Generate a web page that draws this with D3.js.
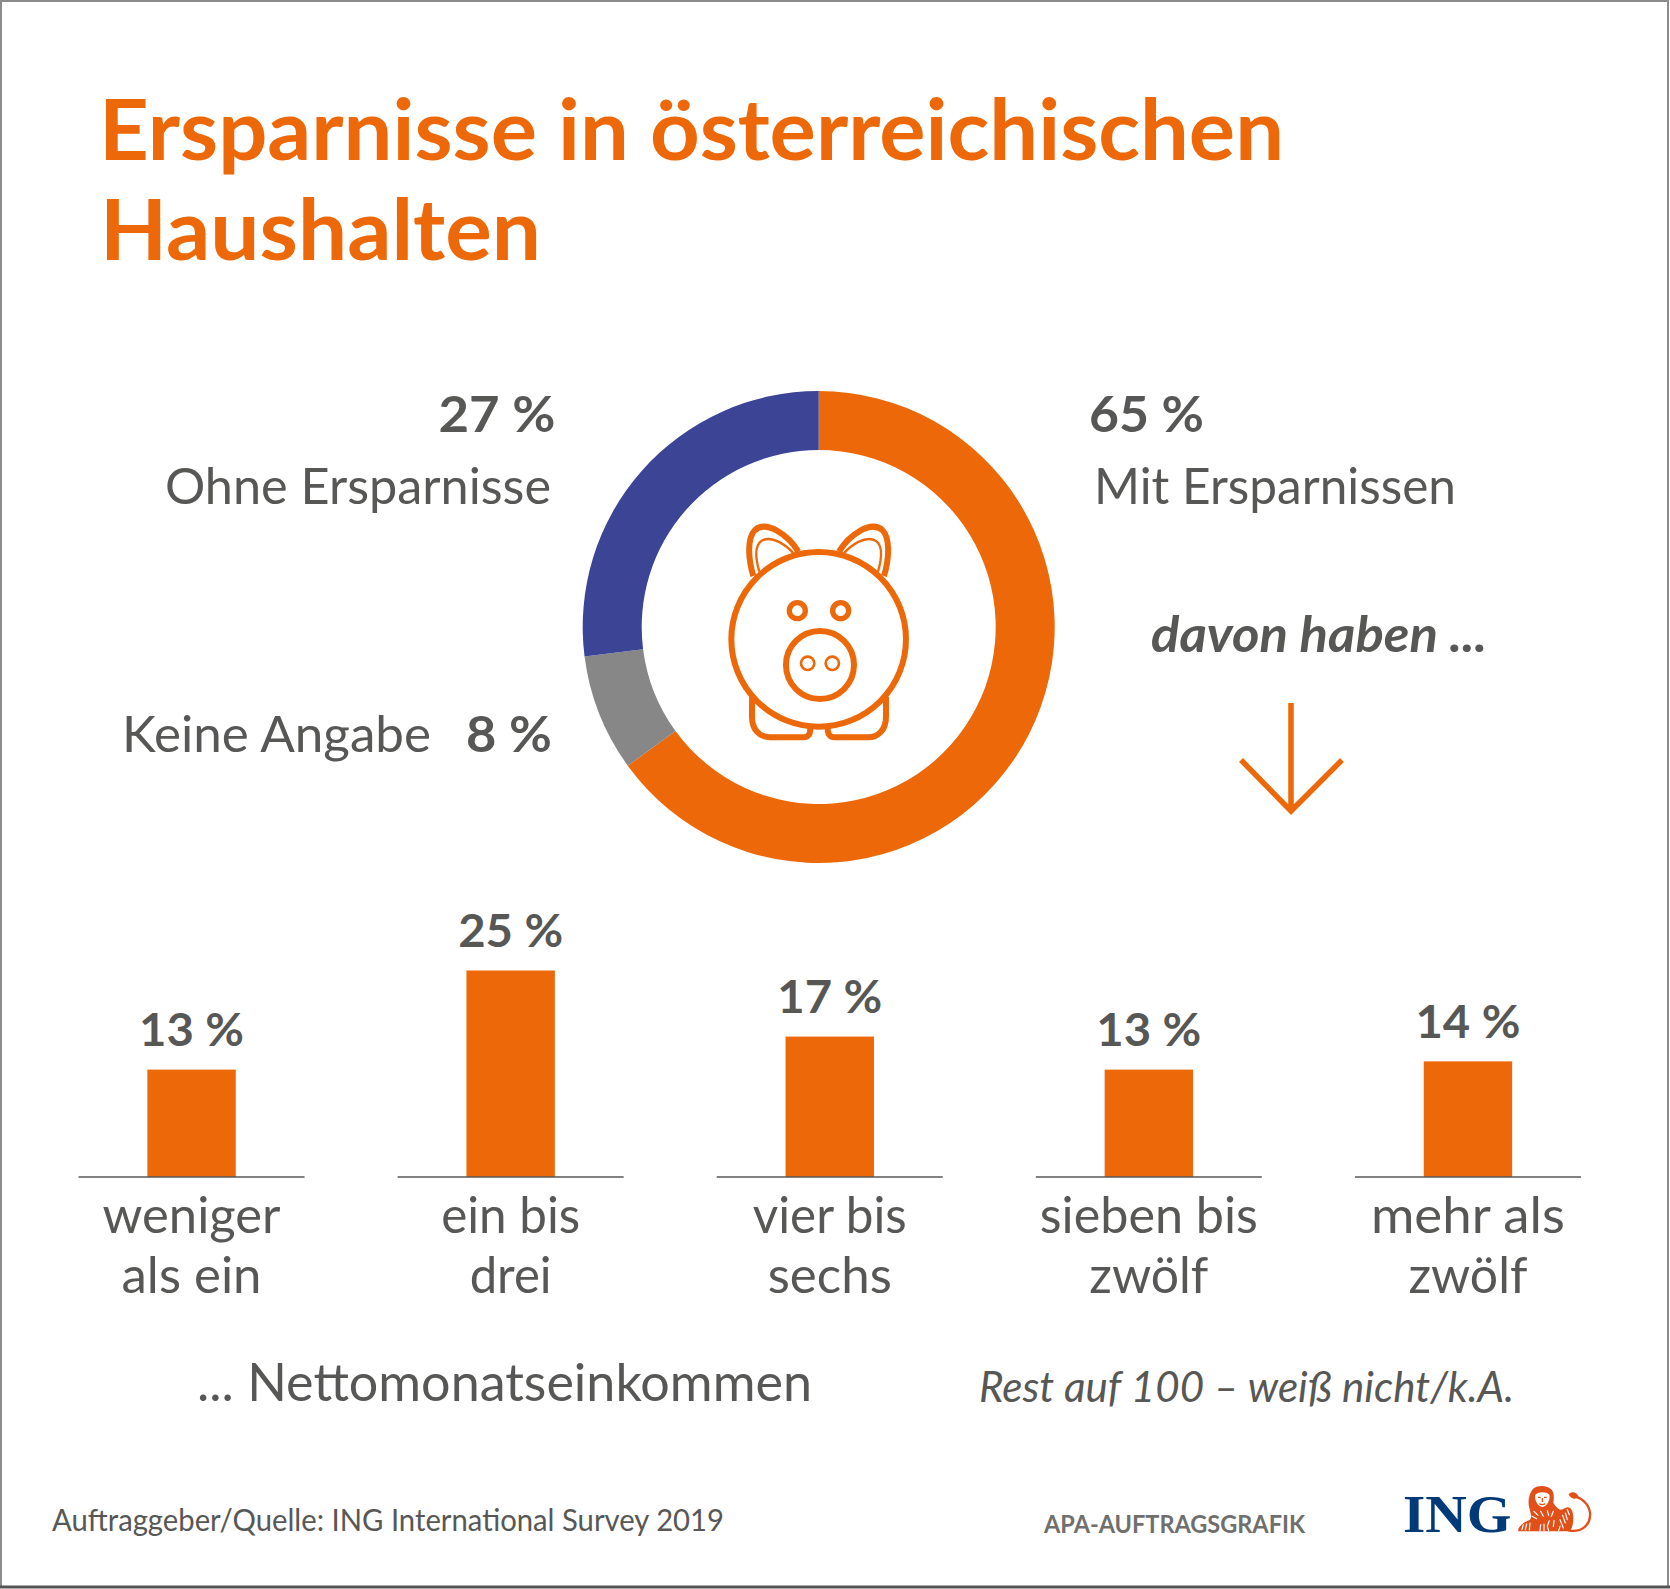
<!DOCTYPE html>
<html><head><meta charset="utf-8">
<script src="https://cdnjs.cloudflare.com/ajax/libs/d3/7.8.5/d3.min.js"></script>
<style>html,body{margin:0;padding:0;background:#fff}svg{display:block}text{font-family:Lato,"Noto Sans",sans-serif}</style>
</head><body><svg id="c" width="1670" height="1589"></svg>
<script>
const donutLabels=["Mit Ersparnissen","Keine Angabe","Ohne Ersparnisse"];
const donutValues=[65,8,27];
const donutColors=["#ec6808","#878787","#3c4496"];
const barCategories=[["weniger","als ein"],["ein bis","drei"],["vier bis","sechs"],["sieben bis","zwölf"],["mehr als","zwölf"]];
const barValues=[13,25,17,13,14];
const ORANGE="#ec6808",GREY="#575756";
const svg=d3.select("#c");
svg.append("rect").attr("x",1).attr("y",1).attr("width",1667).attr("height",1586).attr("fill","#fff").attr("stroke","#8c8c8c").attr("stroke-width",2);
svg.append("line").attr("x1",0).attr("x2",1670).attr("y1",1587).attr("y2",1587).attr("stroke","#555").attr("stroke-width",3);

function T(s,x,y,size,o={}){
  const t=svg.append("text").text(s).attr("x",x).attr("y",y).attr("font-size",size)
    .attr("fill",o.fill||GREY).attr("font-weight",o.weight||400).attr("font-style",o.style||"normal")
    .attr("text-anchor",o.anchor||"start");
  if(o.len){t.attr("textLength",o.len).attr("lengthAdjust","spacingAndGlyphs");}
  if(o.family)t.style("font-family",o.family);
  return t;
}
// title
T("Ersparnisse in österreichischen",99,160,85,{fill:ORANGE,weight:700,len:1185});
T("Haushalten",100,260,85,{fill:ORANGE,weight:700,len:441});

// donut
const arc=d3.arc().innerRadius(177).outerRadius(236);
const pie=d3.pie().sort(null);
svg.append("g").attr("transform","translate(818.7,627)").selectAll("path").data(pie(donutValues)).join("path")
  .attr("d",arc).attr("fill",(d,i)=>donutColors[i]);

// donut labels
T(donutValues[2]+" %",555.5,431.5,49,{weight:700,anchor:"end",len:117});
T(donutLabels[2],165,504,50,{len:386});
T(donutValues[0]+" %",1089,431.5,49,{weight:700,len:115});
T(donutLabels[0],1094,504,50,{len:362});
T(donutLabels[1],122,751.5,50,{len:309});
T(donutValues[1]+" %",552,751.5,49,{weight:700,anchor:"end",len:86});
T("davon haben ...",1151,652,49,{weight:700,style:"italic",len:336});

// arrow
svg.append("path").attr("d","M1291 703V811M1241 760L1291 811L1342 760").attr("fill","none").attr("stroke",ORANGE).attr("stroke-width",5.5);

// pig
const pig=svg.append("g").attr("transform","translate(700,500) scale(0.3333)").attr("fill","none").attr("stroke",ORANGE).attr("stroke-width",18);
pig.append("circle").attr("cx",356).attr("cy",418).attr("r",262);
pig.append("circle").attr("cx",292).attr("cy",332).attr("r",24).attr("stroke-width",16);
pig.append("circle").attr("cx",422).attr("cy",332).attr("r",24).attr("stroke-width",16);
pig.append("circle").attr("cx",360).attr("cy",495).attr("r",102);
pig.append("circle").attr("cx",323).attr("cy",490).attr("r",20).attr("stroke-width",8);
pig.append("circle").attr("cx",397).attr("cy",490).attr("r",20).attr("stroke-width",8);
// ears
pig.append("path").attr("d","M160 228C145 180 140 115 165 90C200 60 265 105 295 155");
pig.append("path").attr("d","M178 215C165 170 165 135 185 122C215 105 260 135 283 163").attr("stroke-width",7);
pig.append("path").attr("d","M552 228C567 180 572 115 547 90C512 60 447 105 417 155");
pig.append("path").attr("d","M534 215C547 170 547 135 527 122C497 105 452 135 429 163").attr("stroke-width",7);
// feet
pig.append("path").attr("d","M156 590V650C156 690 180 712 210 712H310C328 712 335 695 328 675");
pig.append("path").attr("d","M558 590V650C558 690 534 712 504 712H404C386 712 379 695 386 675");

// bars
const xBand=d3.scaleBand().domain(d3.range(barValues.length)).range([32,1627.5]);
const cx=i=>xBand(i)+xBand.bandwidth()/2;
const y=d3.scaleLinear().domain([0,25]).range([1177,970.5]);
const bw=88.4,lw=226;
const labelWidths={"weniger":178,"als ein":140,"ein bis":139,"drei":82,"vier bis":154,"sechs":124,"sieben bis":218,"zwölf":119,"mehr als":194};
const gb=svg.append("g");
gb.selectAll("rect").data(barValues).join("rect")
  .attr("x",(d,i)=>cx(i)-bw/2).attr("width",bw).attr("y",d=>y(d)).attr("height",d=>y(0)-y(d)).attr("fill",ORANGE);
gb.selectAll("line").data(barValues).join("line")
  .attr("x1",(d,i)=>cx(i)-lw/2).attr("x2",(d,i)=>cx(i)+lw/2).attr("y1",y(0)).attr("y2",y(0)).attr("stroke","#575756").attr("stroke-width",1.5);
barValues.forEach((v,i)=>{
  T(v+" %",cx(i),y(v)-23.5,46,{weight:700,anchor:"middle",len:105});
  [0,1].forEach(k=>{const s=barCategories[i][k];T(s,cx(i),1233+k*60,50,{anchor:"middle",len:labelWidths[s]});});
});

T("... Nettomonatseinkommen",197,1400.5,52,{len:615});
T("Rest auf 100 – weiß nicht/k.A.",979,1402,43,{style:"italic",len:535});
T("Auftraggeber/Quelle: ING International Survey 2019",52,1531,30,{len:672});
T("APA-AUFTRAGSGRAFIK",1044,1533,25,{weight:700,fill:"#6f6f6e",len:261});

// logo
T("ING",1403,1531.5,53,{weight:700,fill:"#003a78",family:"Liberation Serif",len:108.5});
const LION="#e2501a";
const lion=svg.append("g").attr("transform","translate(1510,1478) scale(0.3333)");
lion.append("path").attr("fill",LION).attr("d","M72 30C85 20 115 22 125 35C133 45 132 60 130 75C145 95 150 100 165 90C180 82 190 95 190 120C190 140 185 155 178 160L25 160C22 150 35 135 60 125C66 118 62 105 58 90C52 70 58 42 72 30Z");
lion.append("path").attr("fill","none").attr("stroke",LION).attr("stroke-width",7).attr("d","M175 157C215 165 243 140 240 105C238 82 220 62 195 55");
lion.append("path").attr("fill",LION).attr("d","M176 50C183 38 200 42 205 55C200 66 185 65 176 50Z");
// face and stripes
lion.append("path").attr("fill","#fff").attr("d","M76 50C85 40 110 40 118 50C122 62 112 85 97 87C82 85 72 62 76 50Z");
lion.append("path").attr("fill","none").attr("stroke",LION).attr("stroke-width",4).attr("d","M84 58H92M102 58H110M97 60V72M88 77Q97 83 106 77");
lion.append("path").attr("fill","none").attr("stroke","#fff").attr("stroke-width",3.5).attr("stroke-linecap","round")
  .attr("d","M72 100L84 112M92 100L100 115M112 98L116 112M130 100L124 115M66 115L80 122M172 95L178 110M166 105L172 125M158 112L166 135M150 125L160 150M118 128L112 145M132 128L130 145M40 140L36 155M50 138L46 156M60 135L58 156M92 140L90 158M102 138L102 158M112 145L116 158M150 145L146 158");
</script></body></html>
